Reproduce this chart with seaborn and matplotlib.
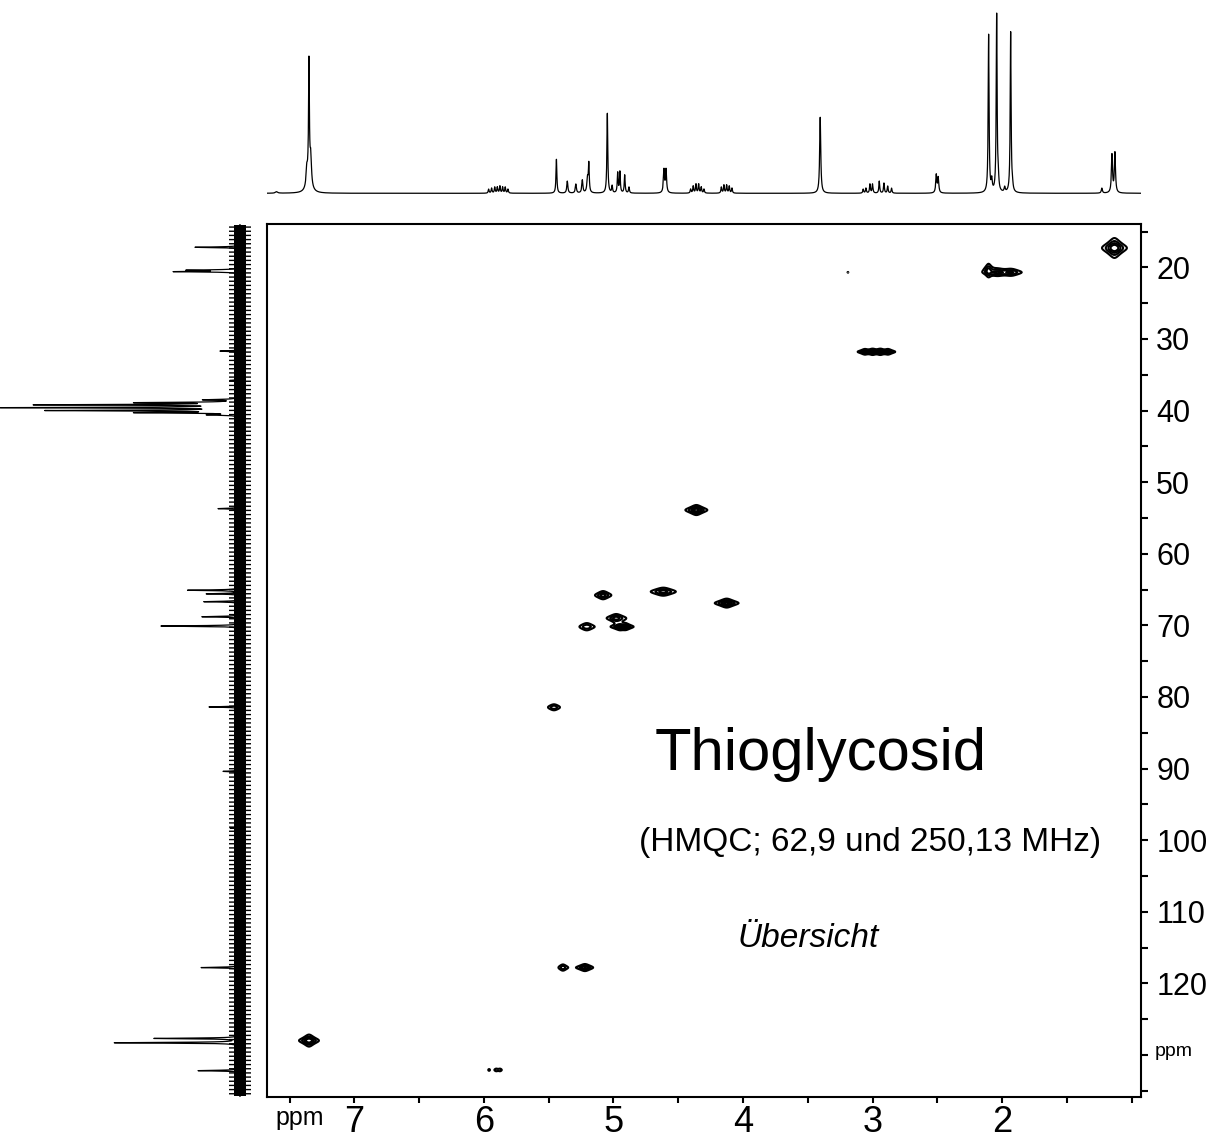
import numpy as np
import pandas as pd
import matplotlib
matplotlib.use("Agg")
import matplotlib.pyplot as plt
import seaborn as sns

# ---------------- data ----------------
# 1H projection (top): shift [ppm], height [rel.], half width [ppm]
h_shift = [7.60, 7.367, 7.35, 7.35, 7.336,
           5.963, 5.940, 5.916, 5.896, 5.876, 5.855, 5.835, 5.814,
           5.44, 5.356, 5.29, 5.24, 5.20, 5.19, 5.047, 5.01, 4.967, 4.95, 4.913, 4.88,
           4.61, 4.594,
           4.404, 4.384, 4.363, 4.342, 4.322, 4.301,
           4.167, 4.147, 4.126, 4.106, 4.085,
           3.404,
           3.072, 3.051, 3.02, 3.00, 2.948, 2.912, 2.883, 2.853,
           2.508, 2.493,
           2.104, 2.08, 2.042, 2.03, 1.98, 1.934, 1.92,
           1.23, 1.152, 1.129]
h_height = [1.5, 15, 110, 22, 25,
            4, 5, 6, 6, 7, 6, 6, 4,
            34, 12, 9, 13, 14, 28, 80, 7, 20, 21, 18, 6,
            23, 23,
            4, 7, 9, 9, 6, 4,
            6, 8, 8, 7, 5,
            76,
            4, 5, 9, 9, 12, 10, 7, 5,
            18, 15,
            158, 11, 178, 12, 5, 161, 5,
            5, 38, 40]
h_width = [0.01, 0.006, 0.0035, 0.016, 0.006,
           0.004, 0.004, 0.004, 0.004, 0.004, 0.004, 0.004, 0.004,
           0.004, 0.005, 0.005, 0.005, 0.006, 0.004, 0.004, 0.004, 0.004, 0.004, 0.004, 0.004,
           0.005, 0.005,
           0.004, 0.004, 0.004, 0.004, 0.004, 0.004,
           0.004, 0.004, 0.004, 0.004, 0.004,
           0.005,
           0.004, 0.004, 0.004, 0.004, 0.004, 0.004, 0.004, 0.004,
           0.005, 0.005,
           0.004, 0.005, 0.004, 0.005, 0.005, 0.004, 0.005,
           0.005, 0.005, 0.005]

# 13C projection (left): shift [ppm], height [rel.]
c_shift = [17.2, 20.4, 20.6, 31.7, 35.8,
           38.5, 38.9, 39.2, 39.6, 40.0, 40.3, 40.6,
           53.7, 65.1, 65.6, 66.7, 68.8, 70.1,
           81.4, 90.4, 98.3, 117.8, 127.7, 128.3, 132.2]
c_height = [45, 49, 63, 20, 10,
            33, 96, 197, 230, 185, 96, 27,
            22, 52, 33, 36, 38, 79,
            31, 17, 10, 39, 85, 125, 42]

# HMQC cross peaks: 1H shift, 13C shift, intensity, half widths (1H, 13C)
x_h = [1.133, 2.105, 2.035, 1.93, 3.19,
       3.06, 3.00, 2.94, 2.88,
       4.36, 5.08, 4.615, 4.126, 4.98, 5.206, 4.95, 4.905,
       5.459, 5.39, 5.22, 7.35,
       5.96, 5.905, 5.875]
x_c = [17.3, 20.4, 20.7, 20.7, 20.7,
       31.8, 31.8, 31.8, 31.8,
       53.9, 65.8, 65.3, 66.9, 69.0, 70.2, 70.2, 70.2,
       81.45, 117.8, 117.8, 128.0,
       132.1, 132.1, 132.1]
x_amp = [1.2, 0.6, 0.5, 0.5, 0.22,
         0.8, 0.9, 0.9, 0.8,
         1.0, 0.7, 0.7, 1.0, 0.7, 0.5, 0.7, 0.7,
         0.5, 0.45, 0.8, 1.2,
         0.25, 0.3, 0.3]
x_wh = [0.043, 0.022, 0.055, 0.055, 0.01,
        0.025, 0.025, 0.025, 0.025,
        0.0425, 0.039, 0.061, 0.046, 0.044, 0.044, 0.03, 0.03,
        0.038, 0.028, 0.036, 0.0345,
        0.01, 0.015, 0.015]
x_wc = [0.62, 0.59, 0.34, 0.34, 0.2,
        0.2, 0.2, 0.2, 0.2,
        0.35, 0.35, 0.35, 0.31, 0.35, 0.40, 0.24, 0.24,
        0.34, 0.37, 0.28, 0.375,
        0.2, 0.2, 0.2]

x_ticks = [7, 6, 5, 4, 3, 2]
x_minor = [7.5, 6.5, 5.5, 4.5, 3.5, 2.5, 1.5, 1.0]
y_ticks = [20, 30, 40, 50, 60, 70, 80, 90, 100, 110, 120]
y_minor = [15, 25, 35, 45, 55, 65, 75, 85, 95, 105, 115, 125, 130, 135]

title = "Thioglycosid"
subtitle = "(HMQC; 62,9 und 250,13 MHz)"
note = "Übersicht"

# ---------------- build spectra ----------------
XLIM = (7.674, 0.928)
YLIM = (135.88, 13.95)

def lor(grid, x0, w):
    return 1.0 / (1.0 + ((grid - x0) / w) ** 2)

hgrid = np.linspace(XLIM[1], XLIM[0], 12000)
hspec = np.zeros_like(hgrid)
for s, a, w in zip(h_shift, h_height, h_width):
    hspec += a * lor(hgrid, s, w)
df_h = pd.DataFrame({"ppm": hgrid, "I": hspec})

cgrid = np.linspace(YLIM[1], YLIM[0], 20000)
cspec = np.zeros_like(cgrid)
for s, a in zip(c_shift, c_height):
    cspec += a * lor(cgrid, s, 0.06)
df_c = pd.DataFrame({"ppm": cgrid, "I": cspec})

gx = np.linspace(XLIM[1], XLIM[0], 1800)
gy = np.linspace(YLIM[1], YLIM[0], 1500)
Z = np.zeros((gy.size, gx.size))
for h, c, a, wh, wc in zip(x_h, x_c, x_amp, x_wh, x_wc):
    Z += a * np.outer(lor(gy, c, wc), lor(gx, h, wh))

# ---------------- figure ----------------
sns.set_theme(style="white")
plt.rcParams["font.family"] = ["Liberation Sans", "DejaVu Sans"]
plt.rcParams["text.color"] = "black"
plt.rcParams["axes.labelcolor"] = "black"
plt.rcParams["xtick.color"] = "black"
plt.rcParams["ytick.color"] = "black"
plt.rcParams["hatch.linewidth"] = 1.0

W, H = 1225, 1143
fig = plt.figure(figsize=(W / 100, H / 100), dpi=100)
fig.patch.set_facecolor("white")

def fx(px):
    return px / W

def fy(py):
    return 1 - py / H

L, R, T, B = 267, 1141, 224, 1097
ax = fig.add_axes([fx(L), fy(B), fx(R - L), (B - T) / H])
ax_top = fig.add_axes([fx(L), fy(200), fx(R - L), 200 / H])
ax_left = fig.add_axes([0, fy(B), fx(255), (B - T) / H])

# main contour plot
ax.contour(gx, gy, Z, levels=[0.2, 0.35, 0.55, 0.8], colors="black", linewidths=1.5)
ax.set_xlim(*XLIM)
ax.set_ylim(*YLIM)
for sp in ax.spines.values():
    sp.set_visible(True)
    sp.set_color("black")
    sp.set_linewidth(1.5)
ax.set_xticks(x_ticks)
ax.set_xticklabels([str(t) for t in x_ticks])
ax.set_xticks(x_minor, minor=True)
ax.yaxis.tick_right()
ax.set_yticks(y_ticks)
ax.set_yticklabels([str(t) for t in y_ticks])
ax.set_yticks(y_minor, minor=True)
ax.tick_params(axis="x", which="both", direction="out", length=4, width=1.5,
               color="black", bottom=True, top=False, labelsize=26, pad=2,
               labelcolor="black")
ax.tick_params(axis="y", which="both", direction="out", length=5, width=1.5,
               color="black", right=True, left=False, labelright=True,
               labelleft=False, labelsize=22, pad=6, labelcolor="black")
ax.set_xlabel("")
ax.set_ylabel("")
ax.grid(False)

# top 1H projection
sns.lineplot(data=df_h, x="ppm", y="I", ax=ax_top, color="black",
             linewidth=0.9, estimator=None, sort=False)
ax_top.set_xlim(*XLIM)
ax_top.set_ylim(-6.7, 193.3)
ax_top.axis("off")

# left 13C projection (baseline noise band + peaks)
ax_left.fill_betweenx([YLIM[1] + 0.2, YLIM[0] - 0.1], -6, 6, color="black", lw=0)
ax_left.fill_betweenx([YLIM[1] + 0.2, YLIM[0] - 0.1], -11, 11, facecolor="none",
                      edgecolor="black", hatch="----", lw=0)
sns.lineplot(data=df_c, x="I", y="ppm", ax=ax_left, color="black",
             linewidth=0.9, estimator=None, sort=False, orient="y")
ax_left.set_xlim(240, -15)
ax_left.set_ylim(*YLIM)
ax_left.axis("off")

# texts
fig.text(fx(821), fy(770), title, fontsize=43, ha="center", va="baseline", color="black")
fig.text(fx(870), fy(851), subtitle, fontsize=24, ha="center", va="baseline", color="black")
fig.text(fx(808), fy(947), note, fontsize=24, ha="center", va="baseline",
         style="italic", color="black")
fig.text(fx(275), fy(1125), "ppm", fontsize=18, ha="left", va="baseline", color="black")
fig.text(fx(1155), fy(1056), "ppm", fontsize=14, ha="left", va="baseline", color="black")

fig.savefig("out.png", dpi=100, facecolor="white")
